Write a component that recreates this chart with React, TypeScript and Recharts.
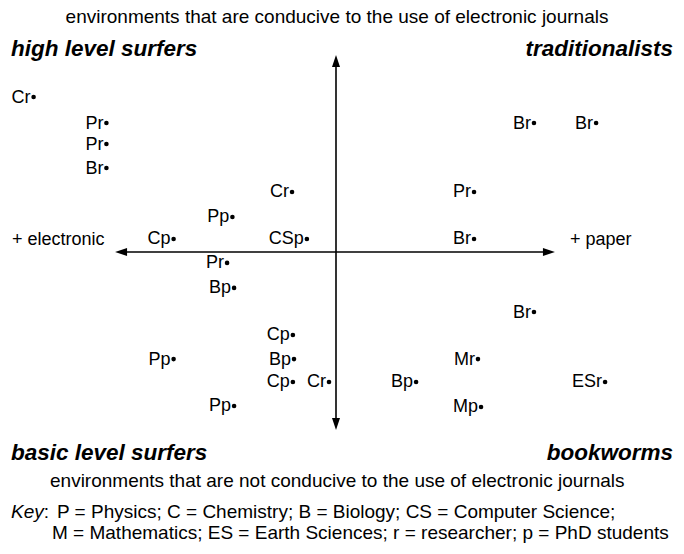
import { ScatterChart, Scatter, XAxis, YAxis, ReferenceLine } from 'recharts';

// position of each group: x < 0 = electronic, x > 0 = paper; y > 0 = conducive environment
const labels = ['Cr', 'Pr', 'Pr', 'Br', 'Cr', 'Pp', 'Cp', 'CSp', 'Br', 'Br', 'Pr', 'Br', 'Pr', 'Bp', 'Cp', 'Pp', 'Bp', 'Cp', 'Cr', 'Pp', 'Br', 'Mr', 'Bp', 'ESr', 'Mp'];
const paperScore = [-10.8, -8.2, -8.2, -8.2, -1.57, -3.7, -5.8, -1.04, 7.07, 9.29, 4.93, 4.93, -3.89, -3.64, -1.54, -5.8, -1.5, -1.54, -0.25, -3.64, 7.07, 5.07, 2.86, 9.61, 5.18];
const conduciveScore = [7.38, 6.14, 5.14, 4.0, 2.86, 1.67, 0.62, 0.62, 6.14, 6.14, 2.86, 0.62, -0.52, -1.71, -3.95, -5.1, -5.1, -6.19, -6.19, -7.33, -2.86, -5.1, -6.19, -6.19, -7.38];

const axisRange = { left: -7.89, right: 7.82, top: 9.38, bottom: -8.48 };

const data = labels.map((label, i) => ({ label, x: paperScore[i], y: conduciveScore[i] }));

const FONT = "'Liberation Sans', Arial, sans-serif";

const Marker = (props: any) => {
  const { cx, cy, payload } = props;
  return (
    <g>
      <text x={cx - 3} y={cy + 5.5} textAnchor="end" fontSize={18} fontFamily={FONT} fill="#000">
        {payload.label}
      </text>
      <circle cx={cx} cy={cy} r={2.3} fill="#000" />
    </g>
  );
};

// line with an arrowhead at both ends
const Arrow = (props: any) => {
  const { x1, y1, x2, y2 } = props;
  const head = (tx: number, ty: number, dx: number, dy: number) => {
    const len = 12;
    const w = 4;
    const bx = tx - dx * len;
    const by = ty - dy * len;
    return `${tx},${ty} ${bx - dy * w},${by + dx * w} ${bx + dy * w},${by - dx * w}`;
  };
  const L = Math.hypot(x2 - x1, y2 - y1) || 1;
  const dx = (x2 - x1) / L;
  const dy = (y2 - y1) / L;
  return (
    <g>
      <line x1={x1 + dx * 6} y1={y1 + dy * 6} x2={x2 - dx * 6} y2={y2 - dy * 6} stroke="#000" strokeWidth={1.6} />
      <polygon points={head(x1, y1, -dx, -dy)} fill="#000" />
      <polygon points={head(x2, y2, dx, dy)} fill="#000" />
    </g>
  );
};

const App = () => {
  return (
    <div style={{ position: 'absolute', left: 0, top: 0, width: 684, height: 554, background: '#fff' }}>
      <ScatterChart width={684} height={554} margin={{ top: 0, right: 12, bottom: 50, left: 0 }}>
        <XAxis type="number" dataKey="x" domain={[-12, 12]} hide />
        <YAxis type="number" dataKey="y" domain={[-12, 12]} hide />
        <ReferenceLine
          segment={[{ x: axisRange.left, y: 0 }, { x: axisRange.right, y: 0 }]}
          shape={Arrow}
        />
        <ReferenceLine
          segment={[{ x: 0, y: axisRange.top }, { x: 0, y: axisRange.bottom }]}
          shape={Arrow}
        />
        <Scatter data={data} fill="#000" shape={Marker} isAnimationActive={false} />
      </ScatterChart>
      <svg width={684} height={554} style={{ position: 'absolute', left: 0, top: 0, pointerEvents: 'none' }} fontFamily={FONT} fill="#000">
        <text x={337} y={23} textAnchor="middle" fontSize={19}>
          environments that are conducive to the use of electronic journals
        </text>
        <text x={11} y={56} fontSize={22.5} fontWeight="bold" fontStyle="italic">high level surfers</text>
        <text x={673} y={56} textAnchor="end" fontSize={22.5} fontWeight="bold" fontStyle="italic">traditionalists</text>
        <text x={12} y={245} fontSize={18}>+ electronic</text>
        <text x={570} y={245} fontSize={18}>+ paper</text>
        <text x={11} y={460} fontSize={22.5} fontWeight="bold" fontStyle="italic">basic level surfers</text>
        <text x={673} y={460} textAnchor="end" fontSize={22.5} fontWeight="bold" fontStyle="italic">bookworms</text>
        <text x={50} y={487} fontSize={19}>
          environments that are not conducive to the use of electronic journals
        </text>
        <text x={11} y={518} fontSize={19}>
          <tspan fontStyle="italic">Key</tspan>
          <tspan>:</tspan>
          <tspan x={57}>P = Physics; C = Chemistry; B = Biology; CS = Computer Science;</tspan>
        </text>
        <text x={52} y={539} fontSize={19}>
          M = Mathematics; ES = Earth Sciences; r = researcher; p = PhD students
        </text>
      </svg>
    </div>
  );
};

export default App;
